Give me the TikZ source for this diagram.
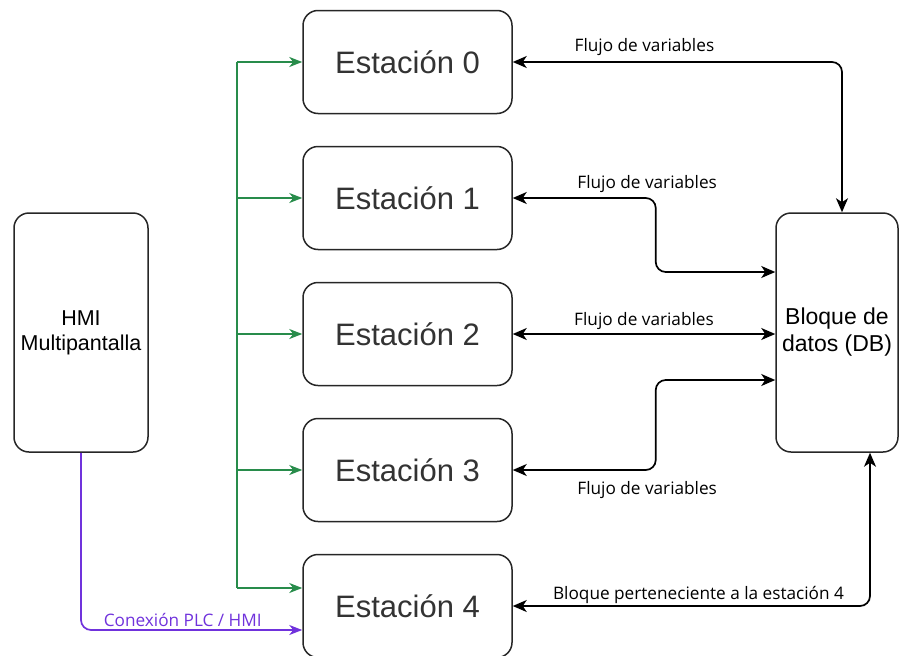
\documentclass[tikz,border=0pt]{standalone}
\usepackage{fontspec}
\setmainfont{Liberation Sans}
\newfontfamily\etiqfont{Open Sans}
\usetikzlibrary{arrows.meta,positioning}

\definecolor{verdebus}{RGB}{40,140,75}
\definecolor{moradoplc}{RGB}{112,50,220}

\begin{document}
\begin{tikzpicture}[x=1pt,y=-1pt,
	caja/.style={draw=black!85, rounded corners=15pt, line width=1.5pt, align=center},
	estacion/.style={caja, minimum width=209pt, minimum height=103pt, text=black!80, font=\fontsize{31}{36}\selectfont},
	bloque/.style={caja, minimum width=134pt, minimum height=239pt, font=\fontsize{21.5}{25}\selectfont},
	etiqueta/.style={font=\etiqfont\fontsize{17.2}{19}\selectfont, inner sep=2pt},
	punta/.style={Stealth[length=14pt,width=12pt,inset=4pt]},
	flujo/.style={line width=1.7pt, rounded corners=10pt, {Stealth[length=14pt,width=12pt,inset=4pt]}-{Stealth[length=14pt,width=12pt,inset=4pt]}},
	bus/.style={verdebus, line width=1.7pt},
	flechabus/.style={bus, -{Stealth[length=13pt,width=10pt,inset=4pt]}}]
	\useasboundingbox (0,0) rectangle (900,656);

	% Estaciones
	\foreach \i in {0,...,4}
		\node[estacion] (E\i) at (407.5,{62+136*\i}) {Estación \i};

	% HMI y bloque de datos
	\node[bloque] (hmi) at (81,332.5) {HMI\\Multipantalla};
	\node[bloque, minimum width=122pt, font=\fontsize{23}{27}\selectfont] (db) at (837,332.5) {Bloque de\\datos (DB)};

	% Bus verde
	\coordinate (bus) at (237,0);
	\coordinate (e4bus) at ([yshift=18pt]E4.west);
	\draw[bus] (bus |- E0.west) -- (bus |- e4bus);
	\foreach \i in {0,...,3}
		\draw[flechabus] (bus |- E\i.west) -- (E\i.west);
	\draw[flechabus] (bus |- e4bus) -- (e4bus);

	% Conexion PLC / HMI
	\coordinate (e4plc) at ([yshift=-24pt]E4.west);
	\draw[moradoplc, line width=1.7pt, rounded corners=10pt, -{Stealth[length=13pt,width=10pt,inset=4pt]}]
		(hmi.south) |- node[etiqueta, above, pos=0.73, text=moradoplc] {Conexión PLC / HMI} (e4plc);

	% Flujo de variables
	\coordinate (d0) at ([xshift=5pt]db.north);
	\coordinate (d1) at ([yshift=60.5pt]db.west);
	\coordinate (d3) at ([yshift=-47.5pt]db.west);
	\coordinate (d4) at ([xshift=33pt]db.south);
	\draw[flujo] (E0.east) -| node[etiqueta, above=4pt, pos=0.2] {Flujo de variables} (d0);
	\draw[flujo] (E1.east) -- node[etiqueta, above=3pt, pos=0.94] {Flujo de variables} ++(143,0) |- (d1);
	\draw[flujo] (E2.east) -- node[etiqueta, above=2pt] {Flujo de variables} (E2.east -| db.west);
	\draw[flujo] (E3.east) -- node[etiqueta, below=9pt, pos=0.94] {Flujo de variables} ++(143,0) |- (d3);
	\draw[flujo] (E4.east) -| node[etiqueta, above, pos=0.26] {Bloque perteneciente a la estación 4} (d4);
\end{tikzpicture}
\end{document}
